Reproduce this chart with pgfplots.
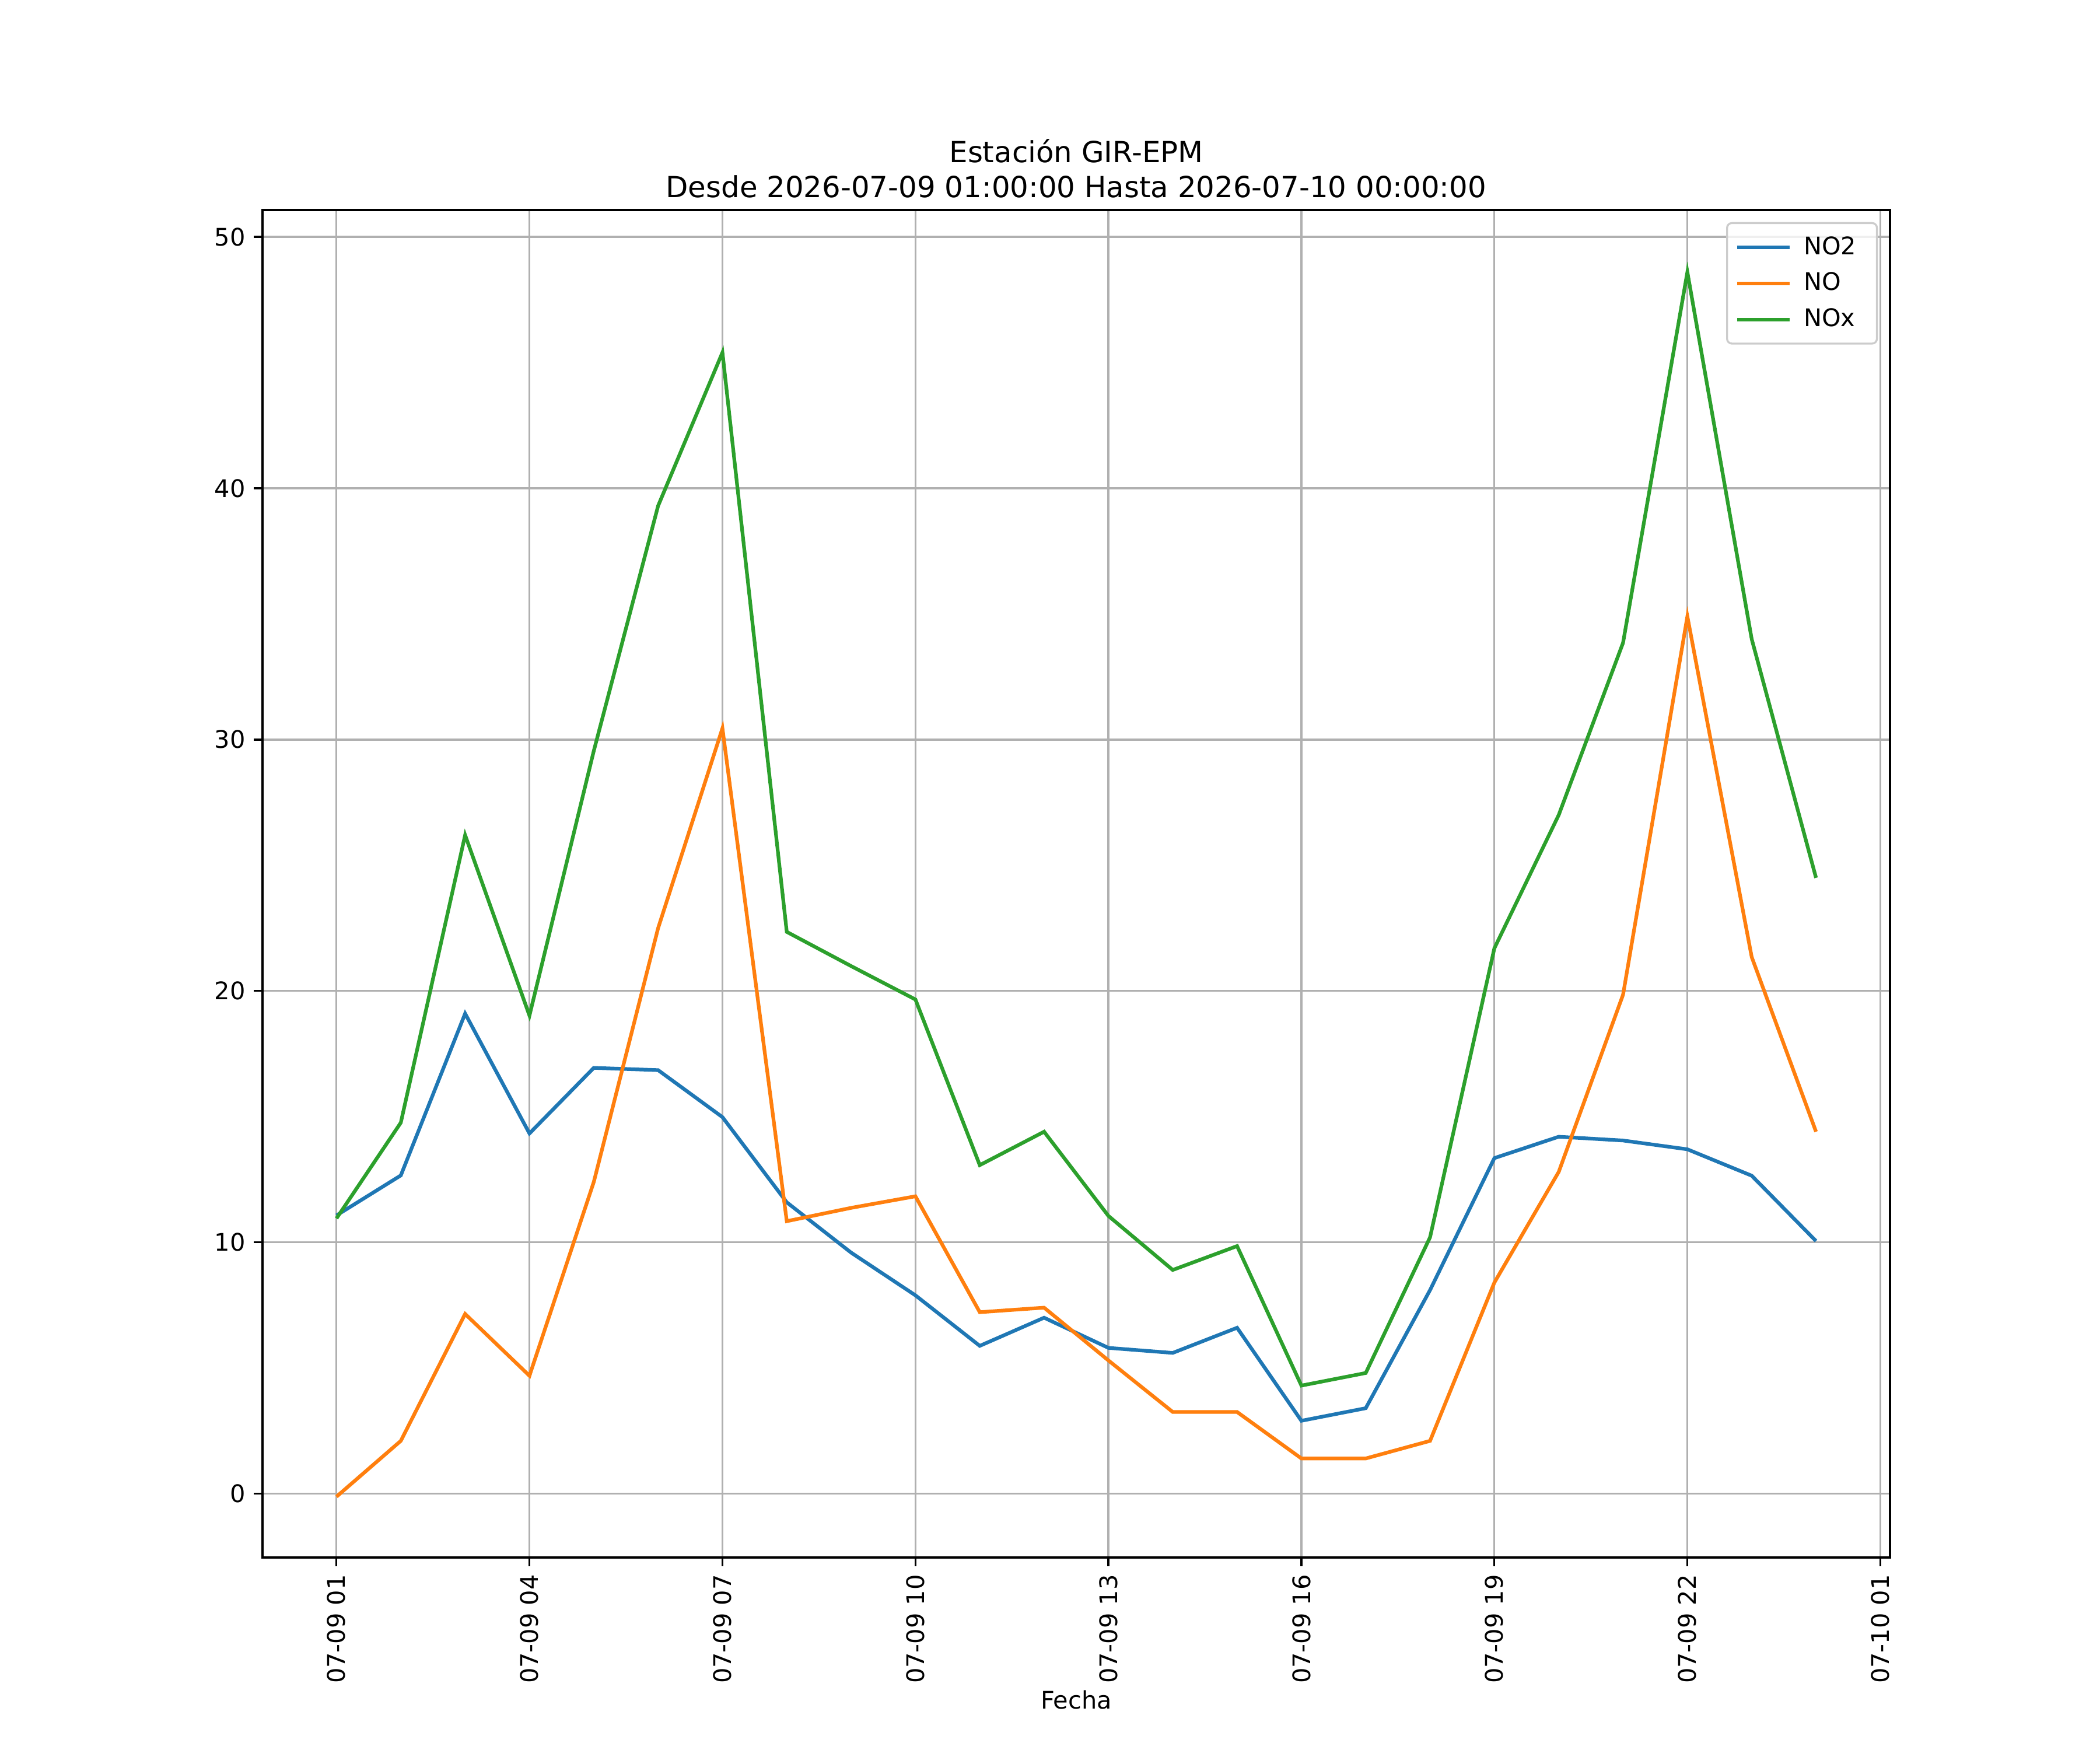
\documentclass[border=0pt]{standalone}
\usepackage{pgfplots}
\pgfplotsset{compat=1.18}
\usepackage{fontspec}
\setmainfont{DejaVu Sans}
\definecolor{c0}{HTML}{1F77B4}
\definecolor{c1}{HTML}{FF7F0E}
\definecolor{c2}{HTML}{2CA02C}
\definecolor{gridc}{HTML}{B0B0B0}
\begin{document}
\begin{tikzpicture}
\path[use as bounding box] (-1.5in,-1.1in) rectangle (10.5in,8.9in);
\begin{axis}[
  at={(0,0)}, anchor=south west,
  scale only axis, width=9.3in, height=7.7in,
  xmin=-0.15, xmax=25.15, ymin=-2.54, ymax=51.07,
  xtick={1,4,7,10,13,16,19,22,25},
  xticklabels={07-09 01,07-09 04,07-09 07,07-09 10,07-09 13,07-09 16,07-09 19,07-09 22,07-10 01},
  x tick label style={rotate=90, anchor=east, font=\fontsize{10}{12}\selectfont},
  ytick={0,10,20,30,40,50},
  y tick label style={font=\fontsize{10}{12}\selectfont},
  /pgf/number format/assume math mode=true,
  tick align=outside, major tick length=3.5pt,
  tick style={black, line width=0.8pt},
  xtick pos=bottom, ytick pos=left,
  grid=major, major grid style={gridc, line width=0.8pt},
  axis line style={line width=0.8pt},
  title={Estación GIR-EPM\\Desde 2026-07-09 01:00:00 Hasta 2026-07-10 00:00:00},
  title style={align=center, font=\fontsize{12}{14.4}\selectfont, yshift=-4.5pt},
  xlabel={Fecha}, xlabel style={font=\fontsize{10}{12}\selectfont, yshift=4pt},
  legend style={at={(1,1)}, anchor=north east, font=\fontsize{10}{12}\selectfont, draw=black!20, rounded corners=2pt, fill=white, fill opacity=0.8, text opacity=1, line width=0.8pt, row sep=2pt, inner sep=3.5pt, xshift=-5pt, yshift=-5pt, nodes={inner xsep=5pt}},
  legend cell align=left,
  legend image code/.code={\draw[#1] (0cm,0cm) -- (0.3in,0cm);},
  clip=true,
]
\addplot[c0, line width=1.5pt] coordinates {
(1,11.07)(2,12.66)(3,19.1)(4,14.33)(5,16.94)(6,16.85)(7,14.98)(8,11.59)(9,9.59)(10,7.89)(11,5.88)(12,7.0)(13,5.8)(14,5.6)(15,6.6)(16,2.9)(17,3.4)(18,8.1)(19,13.35)(20,14.2)(21,14.05)(22,13.7)(23,12.65)(24,10.05)};
\addlegendentry{NO2}
\addplot[c1, line width=1.5pt] coordinates {
(1,-0.12)(2,2.1)(3,7.15)(4,4.69)(5,12.4)(6,22.5)(7,30.45)(8,10.84)(9,11.37)(10,11.83)(11,7.22)(12,7.4)(13,5.3)(14,3.25)(15,3.25)(16,1.4)(17,1.4)(18,2.1)(19,8.4)(20,12.8)(21,19.85)(22,34.9)(23,21.35)(24,14.4)};
\addlegendentry{NO}
\addplot[c2, line width=1.5pt] coordinates {
(1,10.95)(2,14.76)(3,26.2)(4,19.02)(5,29.55)(6,39.3)(7,45.4)(8,22.35)(9,20.99)(10,19.66)(11,13.07)(12,14.4)(13,11.05)(14,8.9)(15,9.85)(16,4.3)(17,4.8)(18,10.2)(19,21.7)(20,27.0)(21,33.85)(22,48.6)(23,34.0)(24,24.5)};
\addlegendentry{NOx}
\end{axis}
\end{tikzpicture}
\end{document}
